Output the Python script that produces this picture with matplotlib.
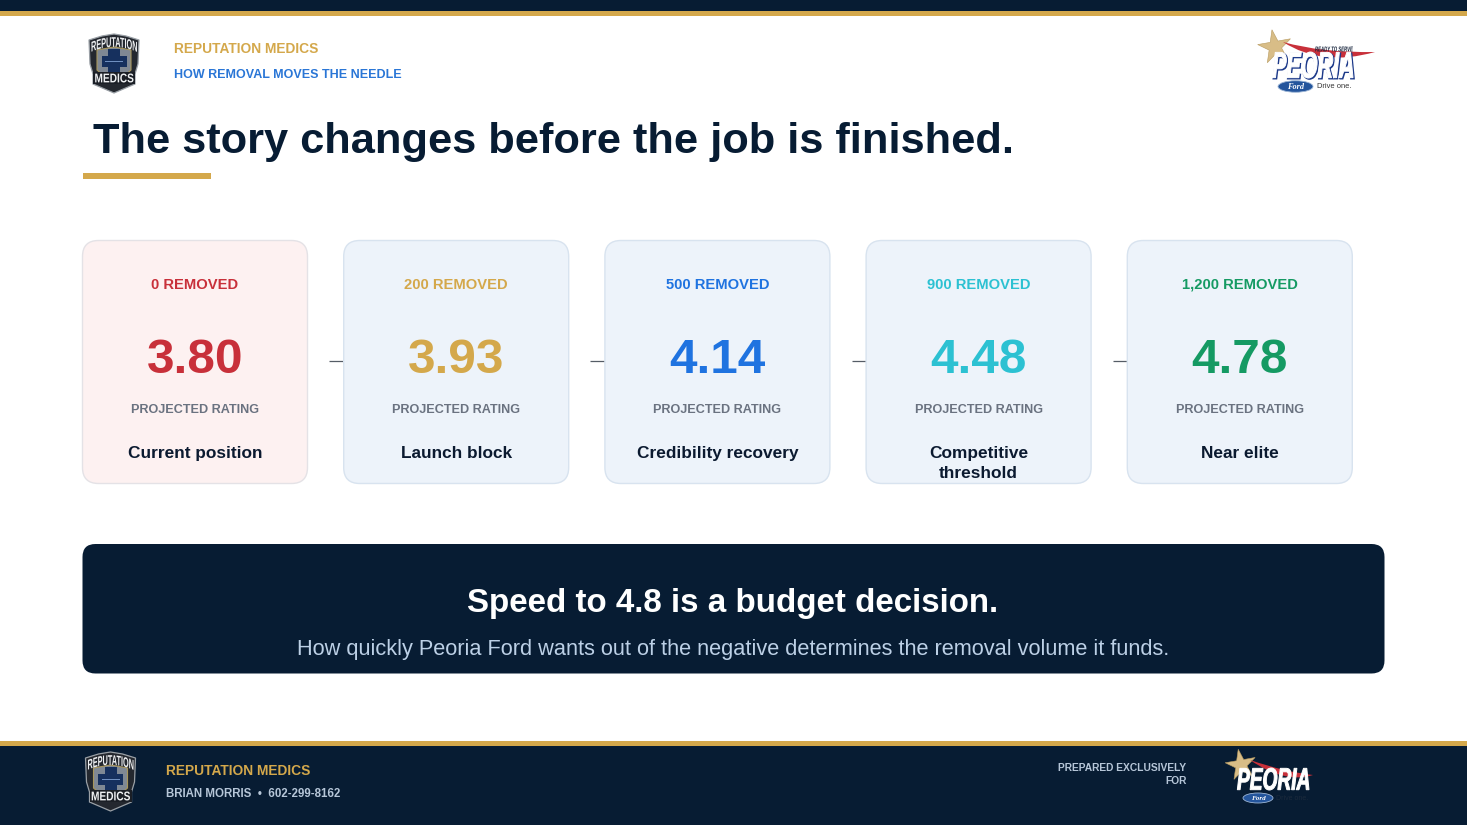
import numpy as np
import matplotlib
matplotlib.use("Agg")
import matplotlib.pyplot as plt
from matplotlib.patches import FancyBboxPatch, Rectangle, Polygon, Ellipse, PathPatch
from matplotlib.path import Path
from matplotlib.textpath import TextPath
from matplotlib.font_manager import FontProperties

removed = ["0 REMOVED", "200 REMOVED", "500 REMOVED", "900 REMOVED", "1,200 REMOVED"]
ratings = [3.80, 3.93, 4.14, 4.48, 4.78]
stages = ["Current position", "Launch block", "Credibility recovery", "Competitive\nthreshold", "Near elite"]
colors = ["#c8303a", "#d4a84b", "#1f73e0", "#2cc1d2", "#159a63"]

NAVY = "#071c33"
GOLD = "#d4a84b"
BLUE = "#2a76d6"

plt.rcParams['font.family'] = ['Liberation Sans', 'DejaVu Sans']
plt.rcParams['font.weight'] = 'bold'


def px(size):
    return size * 0.72


def round_box(ax, x0, y0, x1, y1, r, fc, ec="none", lw=0, z=1):
    ax.add_patch(FancyBboxPatch((x0 + r, y0 + r), x1 - x0 - 2 * r, y1 - y0 - 2 * r,
                                boxstyle="round,pad=%f,rounding_size=%f" % (r, r),
                                fc=fc, ec=ec, lw=lw, zorder=z))


def word_art(ax, word, x0, y0, x1, y1, fc, ec="none", lw=0, italic=False, arc=0.0, z=6):
    # logo lettering: squeezed into a box the way the artwork has it, arc bends it upward at the centre
    fp = FontProperties(family="Liberation Sans", weight="bold", style="italic" if italic else "normal")
    tp = TextPath((0, 0), word, size=10, prop=fp)
    v = tp.vertices.copy()
    lo, hi = v.min(axis=0), v.max(axis=0)
    v[:, 0] = x0 + (v[:, 0] - lo[0]) / (hi[0] - lo[0]) * (x1 - x0)
    v[:, 1] = y1 - (v[:, 1] - lo[1]) / (hi[1] - lo[1]) * (y1 - y0)
    xc = (x0 + x1) / 2
    v[:, 1] += arc * ((v[:, 0] - xc) / ((x1 - x0) / 2)) ** 2
    ax.add_patch(PathPatch(Path(v, tp.codes), fc=fc, ec=ec, lw=lw, zorder=z))


def shield(ax, cx, top):
    def pts(lst):
        return [(cx + a, top + b) for a, b in lst]
    outer = [(-25, 6), (-12, 2), (0, 0), (12, 2), (25, 6), (24, 30), (21, 40), (21, 50), (0, 59), (-21, 50), (-21, 40), (-24, 30)]
    inner = [(-17, 16), (0, 13), (17, 16), (17, 36), (10, 42), (-10, 42), (-17, 36)]
    ax.add_patch(Polygon(pts(outer), closed=True, fc="#24282f", ec="#9aa0a6", lw=0.9, zorder=3))
    ax.add_patch(Polygon(pts(inner), closed=True, fc="#7f8894", ec="#a9975c", lw=0.8, zorder=4))
    ax.add_patch(Rectangle((cx - 6, top + 15), 12, 24, fc="#16305e", ec="none", zorder=5))
    ax.add_patch(Rectangle((cx - 12.5, top + 22), 25, 11, fc="#16305e", ec="none", zorder=5))
    ax.add_patch(Rectangle((cx - 9, top + 27), 18, 1.2, fc="#6f8fc0", ec="none", zorder=6))
    word_art(ax, "REPUTATION", cx - 23, top + 3, cx + 23, top + 13, "#eef0f2", arc=5)
    ax.add_patch(Rectangle((cx - 21, top + 38), 42, 12, fc="#1b1f26", zorder=5))
    word_art(ax, "MEDICS", cx - 19.5, top + 39.5, cx + 19.5, top + 48.5, "#eef0f2")


def star(ax, cx, cy, r, fc):
    ang = np.radians(np.arange(0, 360, 36) - 100)
    rad = np.array([r, r * 0.38] * 5)
    ax.add_patch(Polygon(np.column_stack([cx + rad * np.cos(ang), cy + rad * np.sin(ang)]),
                         closed=True, fc=fc, ec="#b89b60", lw=0.4, zorder=3))


def swoosh(ax, x0, y0, x1, y1, x2, y2, w, fc, z=4):
    verts = [(x0, y0), (x1, y1 - w), (x2, y2), (x1, y1 + w), (x0, y0)]
    codes = [Path.MOVETO, Path.CURVE3, Path.LINETO, Path.CURVE3, Path.LINETO]
    ax.add_patch(PathPatch(Path(verts, codes), fc=fc, ec="none", zorder=z))


def ford_oval(ax, cx, cy, w, h):
    ax.add_patch(Ellipse((cx, cy), w, h, fc="#24559c", ec="#9db6d6", lw=0.6, zorder=5))
    ax.text(cx, cy + 0.5, "Ford", color="white", fontsize=px(h * 0.72), style="italic", family="Liberation Serif",
            ha="center", va="center", zorder=6)


fig = plt.figure(figsize=(14.67, 8.25), dpi=100, facecolor="white")
ax = fig.add_axes([0, 0, 1, 1])
ax.set_xlim(0, 1467)
ax.set_ylim(825, 0)
ax.axis("off")

# top band
ax.add_patch(Rectangle((0, 0), 1467, 11, fc=NAVY, ec="none"))
ax.add_patch(Rectangle((0, 11), 1467, 5, fc=GOLD, ec="none"))

# header
shield(ax, 114, 34)
ax.text(173.5, 53, "REPUTATION MEDICS", color=GOLD, fontsize=px(13.75), va="baseline", ha="left")
ax.text(173.5, 78, "HOW REMOVAL MOVES THE NEEDLE", color=BLUE, fontsize=px(12.55), va="baseline", ha="left")

# dealer logo
swoosh(ax, 1283, 42, 1322, 60, 1375, 52, 7, "#c8303a")
star(ax, 1275, 47, 17.5, "#d8bd87")
word_art(ax, "READY TO SERVE", 1315, 46.5, 1353, 51.5, "#15233b", italic=True)
word_art(ax, "PEORIA", 1273, 53, 1354, 79, "#1d3a8a", ec="#1d3a8a", lw=1.2, italic=True, z=5)
word_art(ax, "PEORIA", 1272, 52, 1353, 78, "white", ec="white", lw=0.7, italic=True)
ford_oval(ax, 1295.5, 86.5, 35, 11.5)
ax.text(1317, 87, "Drive one.", color="#333333", fontsize=px(7.5), weight="normal", ha="left", va="center", zorder=6)

# title
ax.text(93, 153, "The story changes before the job is finished.", color=NAVY, fontsize=px(43.4), va="baseline", ha="left")
ax.add_patch(Rectangle((82.5, 173), 128.5, 5.5, fc=GOLD, ec="none"))

# cards
card_w = 225
step = 261.2
for i in range(len(ratings)):
    x0 = 82.5 + i * step
    xc = x0 + card_w / 2
    fc = "#fdf1f1" if i == 0 else "#edf3fa"
    ec = "#e4e2e6" if i == 0 else "#d8e3ef"
    round_box(ax, x0, 240.5, x0 + card_w, 483.5, 16, fc, ec, 1.0)
    # the comma's descent pushes that label down a pixel
    ax.text(xc, 288.5 if "," in removed[i] else 289, removed[i], color=colors[i], fontsize=px(14.8), ha="center", va="baseline")
    ax.text(xc, 373.2, "%.2f" % ratings[i], color=colors[i], fontsize=px(49.5), ha="center", va="baseline")
    ax.text(xc, 413, "PROJECTED RATING", color="#6a7280", fontsize=px(12.65), ha="center", va="baseline")
    lines = stages[i].split("\n")
    for k in range(len(lines)):
        ax.text(xc, 458 + 20 * k, lines[k], color="#0b1a30", fontsize=px(17.2), ha="center", va="baseline")
    if i > 0:
        ax.plot([x0 - 14.5, x0], [361, 361], color="#555c66", lw=0.9, solid_capstyle="butt", zorder=0)

# banner
round_box(ax, 82.5, 544, 1384.5, 673.5, 13, NAVY)
ax.text(733, 612, "Speed to 4.8 is a budget decision.", color="white", fontsize=px(33.1), ha="center", va="baseline")
ax.text(733, 655.5, "How quickly Peoria Ford wants out of the negative determines the removal volume it funds.",
        color="#bcd0e6", fontsize=px(21.83), weight="normal", ha="center", va="baseline")

# footer
ax.add_patch(Rectangle((0, 741), 1467, 84, fc=NAVY, ec="none"))
ax.add_patch(Rectangle((0, 741), 1467, 5, fc=GOLD, ec="none"))
shield(ax, 110.5, 752)
ax.text(166.5, 775, "REPUTATION MEDICS", color=GOLD, fontsize=px(13.75), va="baseline", ha="left")
ax.text(166.5, 797, "BRIAN MORRIS  \u2022  602-299-8162", color="#b6c6d8", fontsize=px(11.55), va="baseline", ha="left")
ax.text(1186.5, 771, "PREPARED EXCLUSIVELY", color="#b6c6d8", fontsize=px(10.25), va="baseline", ha="right")
ax.text(1186.5, 784, "FOR", color="#b6c6d8", fontsize=px(10.25), va="baseline", ha="right")
swoosh(ax, 1250, 760, 1285, 778, 1313, 775, 6, "#c8303a")
star(ax, 1241, 765, 16, "#d8bd87")
word_art(ax, "PEORIA", 1237, 768, 1309, 790, "white", ec="white", lw=0.7, italic=True)
ford_oval(ax, 1258, 798, 30, 10)
ax.text(1276, 798, "Drive one.", color="#1c2a3c", fontsize=px(7), weight="normal", ha="left", va="center", zorder=6)

fig.savefig("out.png", dpi=100, facecolor="white")
